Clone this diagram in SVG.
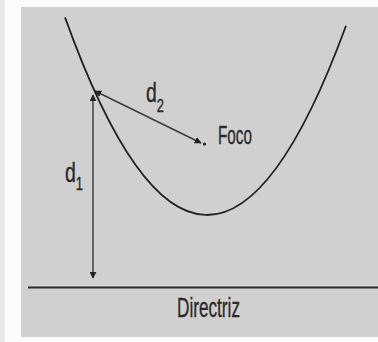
<svg xmlns="http://www.w3.org/2000/svg" width="378" height="342" viewBox="0 0 378 342">
  <style>
    .lbl { font-family: "Liberation Sans", Arial, sans-serif; fill: #2a2a2a; stroke: #2a2a2a; stroke-width: 0.35; }
    .curve { fill: none; stroke: #222; stroke-width: 1.8; }
    .arr { fill: none; stroke: #3a3a3a; stroke-width: 1.4; }
  </style>
  <defs>
    <marker id="ah" viewBox="0 0 10 10" refX="9" refY="5" markerWidth="7" markerHeight="7" markerUnits="userSpaceOnUse" orient="auto-start-reverse">
      <path d="M0,0 L10,5 L0,10 z" fill="#222"/>
    </marker>
  </defs>
  <rect x="0" y="0" width="378" height="342" fill="#fbfbfb"/>
  <rect x="0" y="0" width="5" height="342" fill="#e9e9e9"/>
  <rect id="panel" x="21" y="7" width="357" height="330" fill="#d0d0d0"/>

  <g id="parabola">
    <path class="curve" d="M65,17.4 Q205.5,408.4 346,25.7"/>
  </g>

  <g id="directriz">
    <line x1="28" y1="287.5" x2="378" y2="287.5" stroke="#2a2a2a" stroke-width="2"/>
    <text class="lbl" font-size="27" transform="translate(177,316.5)" textLength="63" lengthAdjust="spacingAndGlyphs">Directriz</text>
  </g>

  <g id="foco">
    <circle cx="204.5" cy="144" r="1.6" fill="#222"/>
    <text class="lbl" font-size="25" x="218" y="144" textLength="34" lengthAdjust="spacingAndGlyphs">Foco</text>
  </g>

  <g id="connectors">
    <line id="d1-arrow" class="arr" x1="93" y1="95" x2="93" y2="278" marker-start="url(#ah)" marker-end="url(#ah)"/>
    <line id="d2-arrow" class="arr" x1="95" y1="91" x2="201" y2="143" marker-start="url(#ah)" marker-end="url(#ah)"/>
  </g>

  <g id="label-d1">
    <text class="lbl" transform="translate(65,182) scale(0.72,1)" font-size="27">d<tspan font-size="18" dy="8">1</tspan></text>
  </g>
  <g id="label-d2">
    <text class="lbl" transform="translate(146,102) scale(0.72,1)" font-size="27">d<tspan font-size="18" dy="10">2</tspan></text>
  </g>
</svg>
